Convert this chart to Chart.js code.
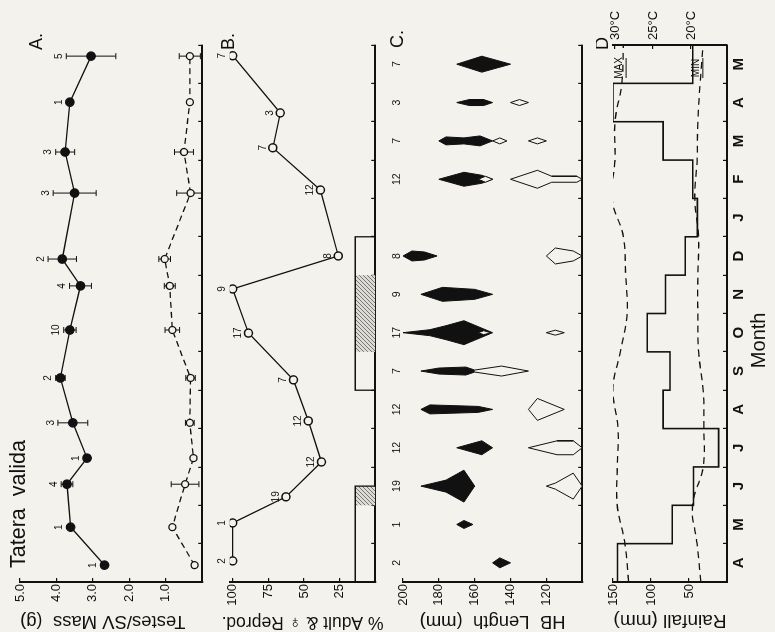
<!DOCTYPE html>
<html>
<head>
<meta charset="utf-8">
<script src="https://cdn.jsdelivr.net/npm/chart.js@4.4.1/dist/chart.umd.min.js"></script>
<style>
  html, body { margin: 0; padding: 0; background: #f4f2ec; overflow: hidden; }
  body { width: 775px; height: 632px; position: relative; }
  /* the figure is drawn upright, then turned a quarter turn like the printed page */
  #fig { position: absolute; left: 0; top: 0; width: 632px; height: 775px;
         transform-origin: 0 0; transform: translate(0, 632px) rotate(-90deg); }
  #fig canvas { position: absolute; left: 0; }
</style>
</head>
<body>
<div id="fig">
  <canvas id="panelA" width="632" height="216" style="top:0px"></canvas>
  <canvas id="panelB" width="632" height="173" style="top:216px"></canvas>
  <canvas id="panelC" width="632" height="207" style="top:389px"></canvas>
  <canvas id="panelD" width="632" height="179" style="top:596px"></canvas>
</div>
<script>
const months = ['A', 'M', 'J', 'J', 'A', 'S', 'O', 'N', 'D', 'J', 'F', 'M', 'A', 'M'];

// A. testes and seminal vesicle mass (g), sample dates in months from 1 April
const massX = [0.44, 1.43, 2.55, 3.23, 4.15, 5.32, 6.57, 7.72, 8.42, 10.14, 11.21, 12.51, 13.71];
const testesMass = [2.68, 3.61, 3.71, 3.16, 3.55, 3.89, 3.63, 3.34, 3.84, 3.50, 3.76, 3.63, 3.05];
const testesErr = [0, 0, 0.16, 0, 0.41, 0.13, 0.17, 0.30, 0.39, 0.59, 0.26, 0, 0.68];
const testesN = [1, 1, 4, 1, 3, 2, 10, 4, 2, 3, 3, 1, 5];
const svMass = [0.21, 0.82, 0.47, 0.24, 0.34, 0.32, 0.82, 0.89, 1.03, 0.32, 0.50, 0.34, 0.34];
const svErr = [0, 0, 0.38, 0, 0.12, 0.13, 0.20, 0.15, 0.16, 0.38, 0.26, 0, 0.29];
const massTicks = [1, 2, 3, 4, 5];

// B. % adult & female reproductive
const adultX = [0.55, 1.54, 2.22, 3.13, 4.20, 5.27, 6.49, 7.64, 8.50, 10.22, 11.32, 12.23, 13.72];
const adultPct = [100, 100, 62.6, 37.7, 46.9, 57.4, 88.9, 100, 25.9, 38.4, 71.8, 66.6, 100];
const adultN = [2, 1, 19, 12, 12, 7, 17, 9, 8, 12, 7, 3, 7];
const breedPeriods = [[0, 2.5], [5, 9]];
const breedPeak = [[2, 2.5], [6, 8]];
const pctTicks = [25, 50, 75, 100];

// C. head-body length kites, [length mm, relative frequency], per month
const lengthN = [2, 1, 19, 12, 12, 7, 17, 9, 8, null, 12, 7, 3, 7];
const kiteAdult = [
  [[150, 0], [146, 5], [140, 0]],
  [[170, 0], [166, 4], [161, 0]],
  [[190, 0], [176, 6], [166, 16], [160, 0]],
  [[170, 0], [156, 7], [150, 0]],
  [[190, 0], [185, 4.5], [158, 3], [150, 0]],
  [[190, 0], [180, 3], [165, 4], [160, 1]],
  [[200, 0], [185, 3], [176, 7], [166, 12], [150, 0]],
  [[190, 0], [178, 7], [160, 5], [150, 0]],
  [[200, 0], [195, 5], [188, 4], [181, 0]],
  null,
  [[180, 0], [166, 7], [156, 4], [150, 0]],
  [[180, 0], [176, 4], [166, 3], [157, 5], [150, 0]],
  [[170, 0], [163, 3], [155, 3], [150, 0]],
  [[170, 0], [156, 8], [140, 0]]
];
const kiteYoung = [
  [],
  [],
  [[[120, 0], [115, 3], [105, 13], [100, 0]]],
  [[[130, 0], [114, 7], [105, 7], [100, 0]]],
  [[[130, 0], [125, 11], [110, 0]]],
  [[[160, 1], [145, 5], [130, 0]]],
  [[[158, 0], [155, 2], [151, 0]], [[120, 0], [115, 2.5], [110, 0]]],
  [],
  [[[120, 0], [115, 8], [105, 5], [100, 0]]],
  [],
  [[[158, 0], [154, 3], [150, 0]], [[140, 0], [125, 9], [117, 3], [103, 3], [100, 0]]],
  [[[150, 0], [146, 3], [142, 0]], [[130, 0], [125, 3], [120, 0]]],
  [[[140, 0], [135, 3], [130, 0]]],
  []
];
const lengthTicks = [120, 140, 160, 180, 200];

// D. monthly rainfall (mm) and max / min temperature (deg C) at month boundaries
const rainfall = [144, 72, 44, 11, 84, 75, 105, 81, 55, 39, 45, 84, 150, 45];
const tempAt = [0, 1, 2, 3, 4, 5, 6, 7, 8, 9, 10, 11, 12, 13, 14];
const tempMax = [28.2, 28.7, 29.7, 29.7, 29.6, 30.3, 29.3, 28.4, 28.6, 28.9, 30.4, 30.0, 30.0, 29.1, 28.9];
const tempMin = [18.7, 19.2, 19.8, 18.4, 18.3, 18.4, 19.0, 19.1, 19.1, 19.0, 19.5, 19.2, 19.1, 18.8, 18.4];
const rainTicks = [50, 100, 150];
const tempTicks = [20, 25, 30];

const ink = '#111';
const paper = '#f4f2ec';
const family = '"Liberation Sans", Arial, Helvetica, sans-serif';
const kiteScale = 0.026;
const breedBarHeight = 14;

Chart.defaults.font.family = family;
Chart.defaults.color = ink;
Chart.defaults.animation = false;
Chart.defaults.events = [];
Chart.defaults.plugins.legend.display = false;
Chart.defaults.plugins.tooltip.enabled = false;

function put(ctx, text, x, y, size, align, baseline, weight) {
  ctx.save();
  ctx.fillStyle = ink;
  ctx.font = (weight || 'normal') + ' ' + size + 'px ' + family;
  ctx.textAlign = align || 'center';
  ctx.textBaseline = baseline || 'middle';
  ctx.fillText(text, x, y);
  ctx.restore();
}

function monthAxis(withLabels) {
  return {
    type: 'linear', position: 'bottom', min: 0, max: 14,
    afterBuildTicks: s => { s.ticks = months.map((m, i) => ({ value: i + 0.5 })); },
    afterFit: s => { s.height = withLabels ? 48 : 4; },
    grid: { offset: true, drawOnChartArea: false, tickLength: -4, color: ink, lineWidth: 1.2 },
    border: { color: ink, width: 2 },
    ticks: { display: withLabels, autoSkip: false, maxRotation: 0, minRotation: 0, padding: 7,
             font: { size: 15, weight: 'bold' }, callback: (v, i) => months[i] }
  };
}

function valueAxis(min, max, tickVals, fmt, title, titleSize, align) {
  return {
    type: 'linear', position: 'left', min: min, max: max,
    afterBuildTicks: s => { s.ticks = tickVals.map(v => ({ value: v })); },
    afterFit: s => { s.width = 50; },
    grid: { drawOnChartArea: false, tickLength: -4, color: ink, lineWidth: 1.2 },
    border: { color: ink, width: 2 },
    ticks: { padding: 6, font: { size: 13 }, callback: v => fmt(v) },
    title: { display: true, text: title, font: { size: titleSize }, padding: 0, align: align || 'center' }
  };
}

function errorBars(xs, ys, es) {
  const pts = [];
  xs.forEach((x, i) => {
    if (!es[i]) return;
    pts.push({ x: x, y: ys[i] - es[i] }, { x: x, y: ys[i] + es[i] }, { x: x, y: null });
  });
  return {
    data: pts, borderColor: ink, borderWidth: 1, spanGaps: false,
    pointStyle: 'line', pointRadius: 3, pointBorderColor: ink, pointBorderWidth: 1, order: 3
  };
}

function kite(center, profile, fillColor, order) {
  const right = profile.map(p => ({ x: center + p[1] * kiteScale, y: p[0] }));
  const left = profile.slice().reverse().map(p => ({ x: center - p[1] * kiteScale, y: p[0] }));
  return {
    data: right.concat(left), fill: 'shape', backgroundColor: fillColor,
    borderColor: ink, borderWidth: 1, pointRadius: 0, tension: 0, order: order
  };
}

function box(period, height, fillColor, withBorder) {
  return {
    data: [{ x: period[0], y: 0 }, { x: period[0], y: height }, { x: period[1], y: height }, { x: period[1], y: 0 }],
    fill: fillColor ? 'shape' : false, backgroundColor: fillColor || 'transparent',
    borderColor: withBorder ? ink : 'transparent', borderWidth: withBorder ? 1.3 : 0,
    pointRadius: 0, tension: 0, order: withBorder ? 2 : 3
  };
}

function hatch() {
  const c = document.createElement('canvas');
  c.width = 4; c.height = 4;
  const g = c.getContext('2d');
  g.fillStyle = '#dddbd5';
  g.fillRect(0, 0, 4, 4);
  g.strokeStyle = '#6a6a6a';
  g.lineWidth = 0.9;
  g.beginPath(); g.moveTo(0, 4); g.lineTo(4, 0); g.stroke();
  g.beginPath(); g.moveTo(-1, 1); g.lineTo(1, -1); g.stroke();
  g.beginPath(); g.moveTo(3, 5); g.lineTo(5, 3); g.stroke();
  return g.createPattern(c, 'repeat');
}

// ---- Panel A
new Chart(document.getElementById('panelA'), {
  type: 'line',
  data: {
    datasets: [
      { data: massX.map((x, i) => ({ x: x, y: testesMass[i] })), borderColor: ink, borderWidth: 1.3,
        pointRadius: 4.2, pointBackgroundColor: ink, pointBorderColor: ink, order: 1 },
      { data: massX.map((x, i) => ({ x: x, y: svMass[i] })), borderColor: ink, borderWidth: 1.3,
        borderDash: [6, 4], pointRadius: 3.5, pointBackgroundColor: paper, pointBorderColor: ink,
        pointBorderWidth: 1.3, order: 2 },
      errorBars(massX, testesMass, testesErr),
      errorBars(massX, svMass, svErr)
    ]
  },
  options: {
    responsive: false, devicePixelRatio: 1,
    layout: { padding: { top: 20, right: 45, left: 0, bottom: 0 } },
    scales: {
      x: monthAxis(false),
      y: valueAxis(0, 5, massTicks, v => v.toFixed(1), 'Testes/SV Mass  (g)', 18.5, 'end')
    }
  },
  plugins: [{
    id: 'textA',
    afterDraw(chart) {
      const { ctx, chartArea } = chart;
      const sx = chart.scales.x, sy = chart.scales.y;
      massX.forEach((xv, i) => {
        const py = sy.getPixelForValue(testesMass[i]);
        const top = Math.min(sy.getPixelForValue(testesMass[i] + testesErr[i]), py - 4);
        put(ctx, String(testesN[i]), sx.getPixelForValue(xv), top - 2, 10, 'center', 'bottom');
      });
      put(ctx, 'A.', chartArea.right - 5, 37, 18, 'left');
      put(ctx, 'Tatera  valida', chartArea.left + 14, 19, 21.5, 'left');
    }
  }]
});

// ---- Panel B
const datasetsB = [
  { data: adultX.map((x, i) => ({ x: x, y: adultPct[i] })), borderColor: ink, borderWidth: 1.3,
    pointRadius: 4, pointBackgroundColor: paper, pointBorderColor: ink, pointBorderWidth: 1.5, order: 1 }
];
const hatchFill = hatch();
breedPeak.forEach(p => datasetsB.push(box(p, breedBarHeight, hatchFill, false)));
breedPeriods.forEach(p => datasetsB.push(box(p, breedBarHeight, null, true)));

new Chart(document.getElementById('panelB'), {
  type: 'line',
  data: { datasets: datasetsB },
  options: {
    responsive: false, devicePixelRatio: 1,
    layout: { padding: { top: 12, right: 45, left: 0, bottom: 0 } },
    scales: {
      x: monthAxis(false),
      y: valueAxis(0, 102, pctTicks, v => String(v), '% Adult & \u2640 Reprod.', 17.5)
    }
  },
  plugins: [{
    id: 'textB',
    afterDraw(chart) {
      const { ctx, chartArea } = chart;
      const sx = chart.scales.x, sy = chart.scales.y;
      adultX.forEach((xv, i) => {
        put(ctx, String(adultN[i]), sx.getPixelForValue(xv), sy.getPixelForValue(adultPct[i]) - 5, 10, 'center', 'bottom');
      });
      put(ctx, 'B.', chartArea.right - 5, 13, 18, 'left');
    }
  }]
});

// ---- Panel C
const datasetsC = [];
months.forEach((m, i) => {
  const center = i + 0.5;
  if (kiteAdult[i]) datasetsC.push(kite(center, kiteAdult[i], ink, 2));
  kiteYoung[i].forEach(p => datasetsC.push(kite(center, p, paper, 1)));
});

new Chart(document.getElementById('panelC'), {
  type: 'line',
  data: { datasets: datasetsC },
  options: {
    responsive: false, devicePixelRatio: 1,
    layout: { padding: { top: 14, right: 45, left: 0, bottom: 0 } },
    scales: {
      x: monthAxis(false),
      y: valueAxis(100, 200, lengthTicks, v => String(v), 'HB  Length  (mm)', 18.5)
    }
  },
  plugins: [{
    id: 'textC',
    afterDraw(chart) {
      const { ctx, chartArea } = chart;
      const sx = chart.scales.x;
      lengthN.forEach((n, i) => {
        if (n === null) return;
        put(ctx, String(n), sx.getPixelForValue(i + 0.5), chartArea.top - 1, 10.5, 'center', 'bottom');
      });
      put(ctx, 'C.', chartArea.right - 3, 9, 18, 'left');
    }
  }]
});

// ---- Panel D
const rainSteps = rainfall.map((r, i) => ({ x: i, y: r }));
rainSteps.push({ x: months.length, y: rainfall[rainfall.length - 1] });

new Chart(document.getElementById('panelD'), {
  type: 'line',
  data: {
    datasets: [
      { data: rainSteps, stepped: 'before', borderColor: ink, borderWidth: 1.6, pointRadius: 0, yAxisID: 'y' },
      { data: tempAt.map((x, i) => ({ x: x, y: tempMax[i] })), yAxisID: 'yT', borderColor: ink,
        borderWidth: 1.3, borderDash: [7, 5], tension: 0.4, pointRadius: 0 },
      { data: tempAt.map((x, i) => ({ x: x, y: tempMin[i] })), yAxisID: 'yT', borderColor: ink,
        borderWidth: 1.3, borderDash: [7, 5], tension: 0.4, pointRadius: 0 }
    ]
  },
  options: {
    responsive: false, devicePixelRatio: 1,
    layout: { padding: { top: 17, right: 0, left: 0, bottom: 0 } },
    scales: {
      x: monthAxis(true),
      y: valueAxis(0, 150, rainTicks, v => String(v), 'Rainfall (mm)', 19),
      yT: {
        type: 'linear', position: 'right', min: 15.26, max: 30.26,
        afterBuildTicks: s => { s.ticks = tempTicks.map(v => ({ value: v })); },
        afterFit: s => { s.width = 45; },
        grid: { drawOnChartArea: false, tickLength: -4, color: ink, lineWidth: 1.2 },
        border: { color: ink, width: 2 },
        ticks: { padding: 9, font: { size: 13 }, callback: v => v + '\u00B0C' }
      }
    }
  },
  plugins: [{
    id: 'textD',
    afterDraw(chart) {
      const { ctx, chartArea } = chart;
      const sx = chart.scales.x, st = chart.scales.yT;
      put(ctx, 'D', chartArea.right - 5, 7, 18, 'left');
      [['MAX', 28.8], ['MIN', 18.7]].forEach(([txt, t]) => {
        const px = sx.getPixelForValue(13.4), py = st.getPixelForValue(t);
        put(ctx, txt, px, py, 10, 'center', 'bottom');
        ctx.save();
        ctx.strokeStyle = ink; ctx.lineWidth = 1;
        ctx.beginPath(); ctx.moveTo(px - 10, py + 2); ctx.lineTo(px + 10, py + 2); ctx.stroke();
        ctx.restore();
      });
      put(ctx, 'Month', sx.getPixelForValue(6.3), chart.height - 16, 20, 'center');
    }
  }]
});
</script>
</body>
</html>
